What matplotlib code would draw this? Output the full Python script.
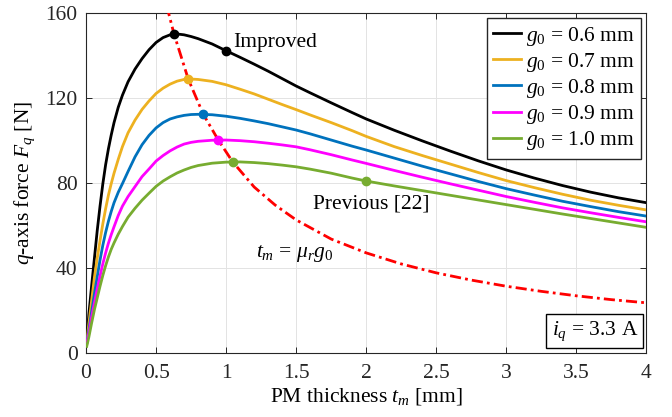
import matplotlib
matplotlib.use("Agg")
import matplotlib.pyplot as plt


# =========================================
# DATA
# =========================================

gap_labels = ["0.6", "0.7", "0.8", "0.9", "1.0"]

# PM thickness t_m [mm], shared by the five force curves
t_mm = [0.005, 0.02, 0.04, 0.06, 0.08, 0.10, 0.12, 0.14, 0.16, 0.18,
        0.20, 0.23, 0.26, 0.30, 0.35, 0.40, 0.45, 0.50, 0.55, 0.60,
        0.65, 0.70, 0.75, 0.80, 0.90, 1.0, 1.1, 1.2, 1.3, 1.4,
        1.5, 1.6, 1.75, 1.9, 2.0, 2.2, 2.4, 2.6, 2.8, 3.0,
        3.2, 3.4, 3.6, 3.8, 4.0]

# q-axis force F_q [N]
f_06 = [4.4, 18.0, 31.5, 44.5, 57.5, 69.0, 79.5, 88.5, 96.0, 102.5,
        108.3, 115.5, 121.2, 127.5, 133.5, 138.4, 142.6, 146.0, 148.3, 149.6,
        150.0, 149.6, 148.8, 147.8, 145.3, 142.1, 139.0, 135.8, 132.5, 129.0,
        125.5, 122.3, 117.6, 113.0, 110.0, 104.7, 99.7, 94.9, 90.3, 86.0,
        82.2, 78.7, 75.6, 72.9, 70.6]

f_07 = [4.4, 13.5, 24.5, 35.5, 44.5, 52.8, 60.7, 67.8, 74.2, 79.6,
        84.5, 91.0, 97.0, 103.5, 109.5, 114.5, 118.5, 122.0, 124.5, 126.4,
        127.8, 128.6, 128.8, 128.6, 127.7, 126.1, 124.0, 121.8, 119.3, 116.8,
        114.4, 111.9, 108.3, 104.5, 101.8, 97.0, 92.8, 88.8, 84.8, 81.0,
        77.7, 74.6, 71.8, 69.4, 67.2]

f_08 = [4.4, 10.5, 19.3, 27.8, 35.8, 43.6, 50.6, 56.6, 61.9, 66.5,
        70.6, 75.5, 79.6, 85.3, 92.2, 97.9, 102.3, 105.8, 108.3, 110.0,
        111.0, 111.7, 112.1, 112.2, 112.0, 111.3, 110.3, 109.1, 107.8, 106.3,
        104.8, 103.0, 100.1, 97.2, 95.4, 91.6, 87.8, 84.2, 80.6, 77.2,
        74.2, 71.3, 68.8, 66.4, 64.3]

f_09 = [4.4, 9.2, 16.8, 23.5, 30.1, 36.1, 41.9, 47.0, 51.6, 55.6,
        59.3, 64.6, 69.0, 73.5, 78.2, 82.9, 86.5, 90.2, 92.8, 95.0,
        96.8, 98.2, 99.0, 99.5, 100.0, 100.1, 99.8, 99.3, 98.6, 97.8,
        96.9, 95.5, 93.2, 90.7, 89.1, 85.8, 82.6, 79.5, 76.5, 73.5,
        70.8, 68.2, 65.9, 63.7, 61.6]

f_10 = [3.0, 7.3, 14.0, 20.3, 25.8, 31.3, 36.4, 41.0, 45.1, 48.7,
        51.7, 55.8, 59.4, 63.8, 68.0, 71.8, 75.1, 78.3, 80.8, 82.8,
        84.6, 86.0, 87.2, 88.1, 89.2, 89.7, 89.8, 89.5, 89.0, 88.3,
        87.5, 86.4, 84.5, 82.2, 80.8, 78.5, 76.3, 74.1, 71.9, 69.7,
        67.5, 65.3, 63.2, 61.1, 59.0]

# optimum points (t_m = mu_r * g0) on each curve
t_opt = [0.628, 0.73, 0.837, 0.944, 1.047]
f_opt = [150.0, 128.7, 112.2, 100.1, 89.8]

# locus t_m = mu_r g0
t_locus = [0.575, 0.628, 0.73, 0.837, 0.944, 1.047, 1.2, 1.35, 1.5, 1.75,
           2.0, 2.25, 2.5, 2.75, 3.0, 3.25, 3.5, 3.75, 4.0]
f_locus = [163.5, 150.0, 128.7, 112.2, 100.1, 89.8, 78.0, 69.5, 62.5, 53.5,
           47.0, 41.8, 37.6, 34.2, 31.3, 28.9, 26.8, 25.0, 23.5]

t_improved, f_improved = 1.0, 142.1
t_previous, f_previous = 2.0, 80.8

x_ticks = [0, 0.5, 1, 1.5, 2, 2.5, 3, 3.5, 4]
x_tick_labels = ["0", "0.5", "1", "1.5", "2", "2.5", "3", "3.5", "4"]
y_ticks = [0, 40, 80, 120, 160]


# =========================================
# STYLE
# =========================================

plt.rcParams["font.family"] = ["Liberation Serif", "DejaVu Serif"]
plt.rcParams["mathtext.fontset"] = "custom"
plt.rcParams["mathtext.rm"] = "Liberation Serif"
plt.rcParams["mathtext.it"] = "Liberation Serif:italic"
plt.rcParams["mathtext.bf"] = "Liberation Serif:bold"
plt.rcParams["font.size"] = 15.5

colors = ["#000000", "#EDB120", "#0072BD", "#FF00FF", "#77AC30"]
axis_color = "#262626"

fig = plt.figure(figsize=(6.72, 4.17), dpi=100)

ax = fig.add_axes([0.128, 0.154, 0.834, 0.8155])


# =========================================
# CURVES
# =========================================

forces = [f_06, f_07, f_08, f_09, f_10]

for f, color, label in zip(forces, colors, gap_labels):

    ax.plot(
        t_mm, f,
        color=color,
        linewidth=2.0,
        label=r"$g_{\mathit{0}}$ = " + label + " mm",
        zorder=3
    )

ax.plot(
    t_locus, f_locus,
    color="#FF0000",
    linewidth=2.0,
    linestyle=(0, (4, 1.5, 1, 1.5)),
    zorder=4
)

for t, f, color in zip(t_opt, f_opt, colors):

    ax.plot(t, f, "o", color=color, markersize=6, zorder=5)

ax.plot(t_improved, f_improved, "o", color=colors[0], markersize=6, zorder=5)
ax.plot(t_previous, f_previous, "o", color=colors[4], markersize=6, zorder=5)


# =========================================
# TEXT
# =========================================

ax.text(1.05, 146.0, "Improved", va="center", ha="left")

ax.text(1.62, 70.0, "Previous [22]", va="center", ha="left")

ax.text(1.21, 46.5, r"$t_m$ = $\mu_r g_{\mathit{0}}$", va="center", ha="left")

ax.text(
    0.985, 0.03,
    r"$i_q$ = 3.3 A",
    transform=ax.transAxes,
    ha="right", va="bottom",
    bbox=dict(boxstyle="square,pad=0.25", facecolor="white",
              edgecolor="black", linewidth=1.0),
    zorder=6
)


# =========================================
# AXES
# =========================================

ax.set_xlim(0, 4)
ax.set_ylim(0, 160)

ax.set_xticks(x_ticks)
ax.set_xticklabels(x_tick_labels)
ax.set_yticks(y_ticks)

ax.grid(True, color="#e3e3e3", linewidth=0.7)
ax.set_axisbelow(True)

ax.tick_params(
    direction="in",
    top=True, right=True,
    length=4,
    width=0.7,
    colors=axis_color,
    labelcolor=axis_color
)
ax.tick_params(axis="x", pad=8)
ax.tick_params(axis="y", pad=6)

for spine in ax.spines.values():
    spine.set_color(axis_color)
    spine.set_linewidth(0.8)

ax.set_xlabel(r"PM thickness $t_m$ [mm]", labelpad=2)
ax.set_ylabel(r"$q$-axis force $F_q$ [N]", labelpad=6)

leg = ax.legend(
    loc="upper right",
    handlelength=1.3,
    handletextpad=0.2,
    labelspacing=0.15,
    borderaxespad=0.25,
    borderpad=0.3,
    fancybox=False,
    framealpha=1.0,
    edgecolor=axis_color
)
leg.get_frame().set_linewidth(1.0)
leg.set_zorder(7)

fig.savefig("out.png", dpi=100)
